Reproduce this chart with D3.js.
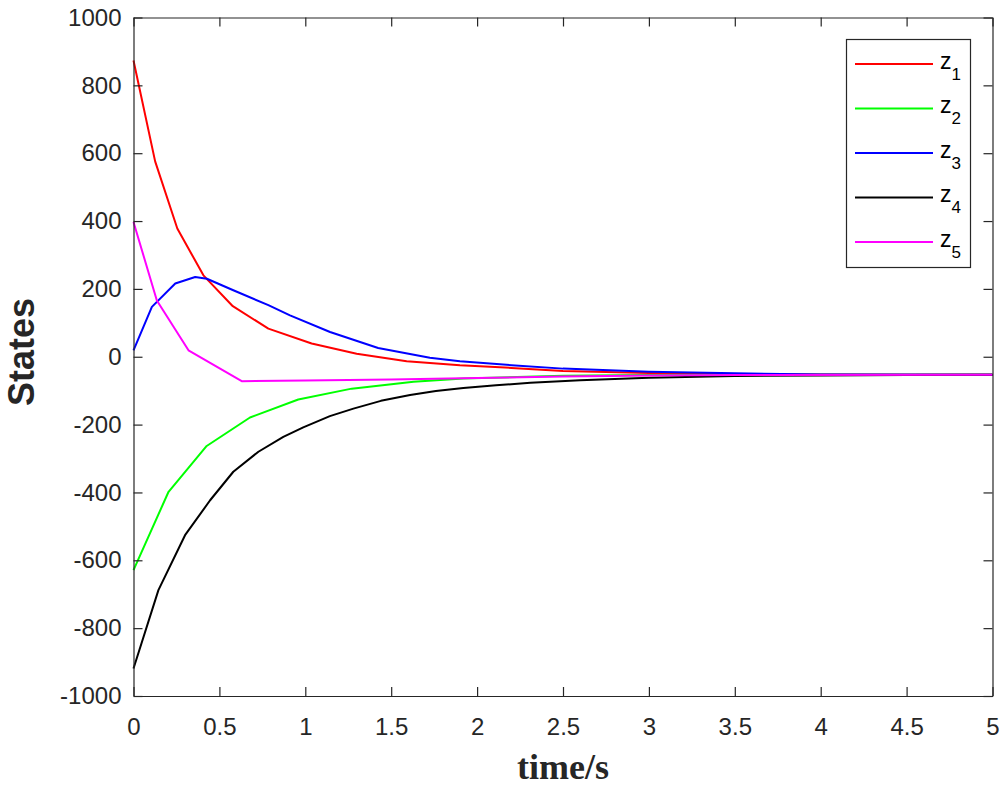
<!DOCTYPE html>
<html>
<head>
<meta charset="utf-8">
<script src="https://cdn.jsdelivr.net/npm/d3@7"></script>
<style>
  body { margin: 0; background: #fff; }
  svg { display: block; }
</style>
</head>
<body>
<svg id="chart" width="1007" height="788"></svg>
<script>
"use strict";

// values, one time vector per state
const t1 = [0, 0.126, 0.255, 0.407, 0.578, 0.785, 1.037, 1.299, 1.59, 1.9, 2.2, 2.5, 3.0, 3.5, 4.0, 5.0];
const z1 = [873, 576, 378, 240, 149, 83, 39, 9, -13, -25, -33, -42, -48, -51, -52.5, -53];

const t2 = [0, 0.204, 0.426, 0.678, 0.959, 1.27, 1.63, 1.92, 2.5, 3.0, 4.0, 5.0];
const z2 = [-629, -398, -263, -179, -126, -94, -74, -64, -56, -54, -53, -53];

const t3 = [0, 0.107, 0.243, 0.359, 0.427, 0.581, 0.785, 0.911, 1.144, 1.424, 1.725, 1.9, 2.2, 2.5, 3.0, 3.5, 4.0, 5.0];
const z3 = [19, 147, 216, 235, 230, 196, 152, 122, 73, 26, -3, -13, -25, -35, -44, -49, -52, -53];

const t4 = [0, 0.145, 0.3, 0.446, 0.581, 0.727, 0.872, 0.988, 1.143, 1.28, 1.44, 1.61, 1.76, 1.92, 2.11, 2.31, 2.6, 3.0, 3.5, 4.0, 4.5, 5.0];
const z4 = [-919, -688, -526, -423, -339, -280, -236, -208, -175, -153, -130, -113, -101, -92, -84, -77, -69, -62, -57, -55, -54, -53];

const t5 = [0, 0.136, 0.32, 0.63, 1.0, 1.5, 2.0, 2.5, 3.0, 3.5, 5.0];
const z5 = [397, 166, 19, -72, -70, -67, -63, -58, -55, -54, -53];

const seriesNames = ["1", "2", "3", "4", "5"];
const seriesColors = ["#ff0000", "#00ff00", "#0000ff", "#000000", "#ff00ff"];
const xTicks = [0, 0.5, 1, 1.5, 2, 2.5, 3, 3.5, 4, 4.5, 5];
const yTicks = [-1000, -800, -600, -400, -200, 0, 200, 400, 600, 800, 1000];

const svg = d3.select("#chart");
const axisCol = "#262626";
const sans = "'Liberation Sans', Arial, Helvetica, sans-serif";

const x = d3.scaleLinear().domain([0, 5]).range([133.5, 992.5]);
const y = d3.scaleLinear().domain([-1000, 1000]).range([696, 17.5]);

// data lines
const series = [[t1, z1], [t2, z2], [t3, z3], [t4, z4], [t5, z5]];
const line = d3.line().x(d => x(d[0])).y(d => y(d[1]));

svg.append("g").selectAll("path")
  .data(series)
  .join("path")
    .attr("d", s => line(s[0].map((t, i) => [t, s[1][i]])))
    .attr("fill", "none")
    .attr("stroke", (s, i) => seriesColors[i])
    .attr("stroke-width", 2)
    .attr("stroke-linejoin", "round");

// axes, ticks inside on all four sides
function styleAxis(g) {
  g.select(".domain").attr("stroke", axisCol).attr("stroke-width", 1.2);
  g.selectAll(".tick line").attr("stroke", axisCol).attr("stroke-width", 1.2);
  g.selectAll("text").attr("fill", axisCol).attr("font-family", sans).attr("font-size", 24);
}

svg.append("g")
  .attr("transform", `translate(0,${y.range()[0]})`)
  .call(d3.axisBottom(x).tickValues(xTicks).tickFormat(d => String(d))
    .tickSizeInner(-9).tickSizeOuter(0).tickPadding(22))
  .call(styleAxis);

svg.append("g")
  .attr("transform", `translate(${x.range()[0]},0)`)
  .call(d3.axisLeft(y).tickValues(yTicks).tickFormat(d => String(d))
    .tickSizeInner(-9).tickSizeOuter(0).tickPadding(12))
  .call(styleAxis);

svg.append("g")
  .attr("transform", `translate(0,${y.range()[1]})`)
  .call(d3.axisTop(x).tickValues(xTicks).tickFormat("")
    .tickSizeInner(-9).tickSizeOuter(0))
  .call(styleAxis);

svg.append("g")
  .attr("transform", `translate(${x.range()[1]},0)`)
  .call(d3.axisRight(y).tickValues(yTicks).tickFormat("")
    .tickSizeInner(-9).tickSizeOuter(0))
  .call(styleAxis);

// axis titles
svg.append("text")
  .attr("transform", "translate(34,352) rotate(-90)")
  .attr("text-anchor", "middle")
  .attr("font-family", sans)
  .attr("font-weight", "bold")
  .attr("font-size", 36)
  .attr("fill", axisCol)
  .text("States");

svg.append("text")
  .attr("x", (x.range()[0] + x.range()[1]) / 2)
  .attr("y", 779)
  .attr("text-anchor", "middle")
  .attr("font-family", "'Liberation Serif', 'Times New Roman', serif")
  .attr("font-weight", "bold")
  .attr("font-size", 36)
  .attr("fill", axisCol)
  .text("time/s");

// legend
const leg = svg.append("g");
leg.append("rect")
  .attr("x", 846.5).attr("y", 39.5)
  .attr("width", 124).attr("height", 228)
  .attr("fill", "#fff")
  .attr("stroke", axisCol)
  .attr("stroke-width", 1.2);

const rowY = d3.scalePoint().domain(seriesNames).range([64, 242]);

const rows = leg.selectAll("g.row")
  .data(seriesNames)
  .join("g")
    .attr("class", "row")
    .attr("transform", d => `translate(0,${rowY(d)})`);

rows.append("line")
  .attr("x1", 855).attr("x2", 933)
  .attr("stroke", (d, i) => seriesColors[i])
  .attr("stroke-width", 2);

const lbl = rows.append("text")
  .attr("x", 940).attr("y", 4.5)
  .attr("font-family", sans)
  .attr("font-size", 23)
  .attr("fill", "#000");
lbl.append("tspan").text("z");
lbl.append("tspan")
  .attr("dy", 11)
  .attr("font-size", 17)
  .text(d => d);
</script>
</body>
</html>
